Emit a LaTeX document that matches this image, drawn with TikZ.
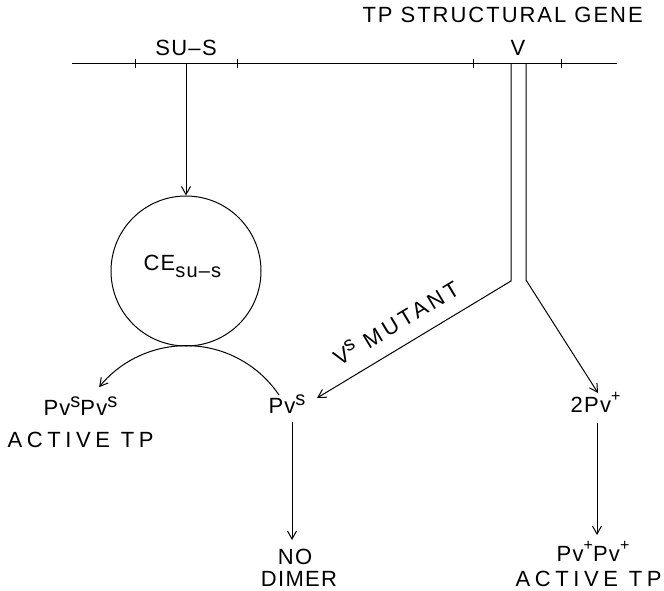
\documentclass[tikz,border=0pt]{standalone}
\usepackage{fontspec}
\setmainfont[LetterSpace=6]{Liberation Sans}
\newfontfamily\widefont[LetterSpace=21]{Liberation Sans}
\newfontfamily\midfont[LetterSpace=16]{Liberation Sans}
\usetikzlibrary{arrows.meta}
\newcommand\upS[1]{\raisebox{8pt}{\fontsize{20}{20}\selectfont #1}}
\newcommand\upP[1]{\raisebox{11pt}{\fontsize{16}{16}\selectfont #1}}
\newcommand\dnS[1]{\raisebox{-7pt}{\fontsize{20}{20}\selectfont #1}}
\begin{document}
\begin{tikzpicture}[x=1pt,y=-1pt,line width=1pt,
  lbl/.style={inner sep=0pt,font=\fontsize{22}{22}\selectfont},
  arr/.style={-{Straight Barb[length=8pt,width=9pt]}},
  tick/.style={line width=1pt}]
\useasboundingbox (0,0) rectangle (664,590);
% gene line
\coordinate (gl) at (72,63);
\coordinate (gr) at (617,63);
\draw (gl) -- (gr);
\foreach \x in {135,237,473,561}{\draw[tick] (\x,59) -- (\x,68);}
\node[lbl,anchor=base west] (title) at (362,22) {\addfontfeatures{LetterSpace=9}TP STRUCTURAL GENE};
\node[lbl,anchor=base] (sus) at (186,55) {SU–S};
\node[lbl,anchor=base] (v) at (518,55) {V};
\coordinate (susp) at (186,63);
\coordinate (vl) at (511,63);
\coordinate (vr) at (526,63);
\coordinate (vlb) at (511,281);
\coordinate (vrb) at (526,280);
% circle
\node[circle,draw,minimum size=150pt,inner sep=0pt] (ce) at (186,271) {};
\node[lbl,anchor=base west] (celbl) at (143,270) {CE\dnS{su–s}};
\draw[arr] (susp) -- (ce.north);
% arc
\coordinate (arcs) at (279,395);
\draw[arr] (arcs) arc[start angle=34,end angle=141,radius=112pt];
% labels
\node[lbl,anchor=base west] (pp) at (43,415) {Pv\upS{s}Pv\upS{s}};
\node[anchor=base west,inner sep=0pt,font=\fontsize{22}{22}\widefont] (act1) at (7,447) {ACTIVE TP};
\node[lbl,anchor=base west] (pvs) at (268,413) {Pv\upS{s}};
\node[lbl,anchor=base west] (tpv) at (570,412) {2Pv\upP{+}};
\node[lbl,anchor=base] (no) at (295,564) {NO};
\node[lbl,anchor=base] (dimer) at (299,586) {DIMER};
\node[lbl,anchor=base] (ppp) at (593,561) {Pv\upP{+}Pv\upP{+}};
\node[anchor=base west,inner sep=0pt,font=\fontsize{22}{22}\widefont] (act2) at (515,586) {ACTIVE TP};
\node[anchor=base west,inner sep=0pt,rotate=31,font=\fontsize{22}{22}\midfont] (mut) at (339,367) {V\upS{s} MUTANT};
% V lines
\coordinate (pvsin) at (317,398);
\coordinate (tpvin) at (598,393);
\draw[arr] (vl) -- (vlb) -- (pvsin);
\draw[arr] (vr) -- (vrb) -- (tpvin);
% down arrows
\coordinate (a1) at (292,422);
\coordinate (a1e) at (292,540);
\coordinate (a2) at (597,423);
\coordinate (a2e) at (597,535);
\draw[arr] (a1) -- (a1e);
\draw[arr] (a2) -- (a2e);
\end{tikzpicture}
\end{document}
